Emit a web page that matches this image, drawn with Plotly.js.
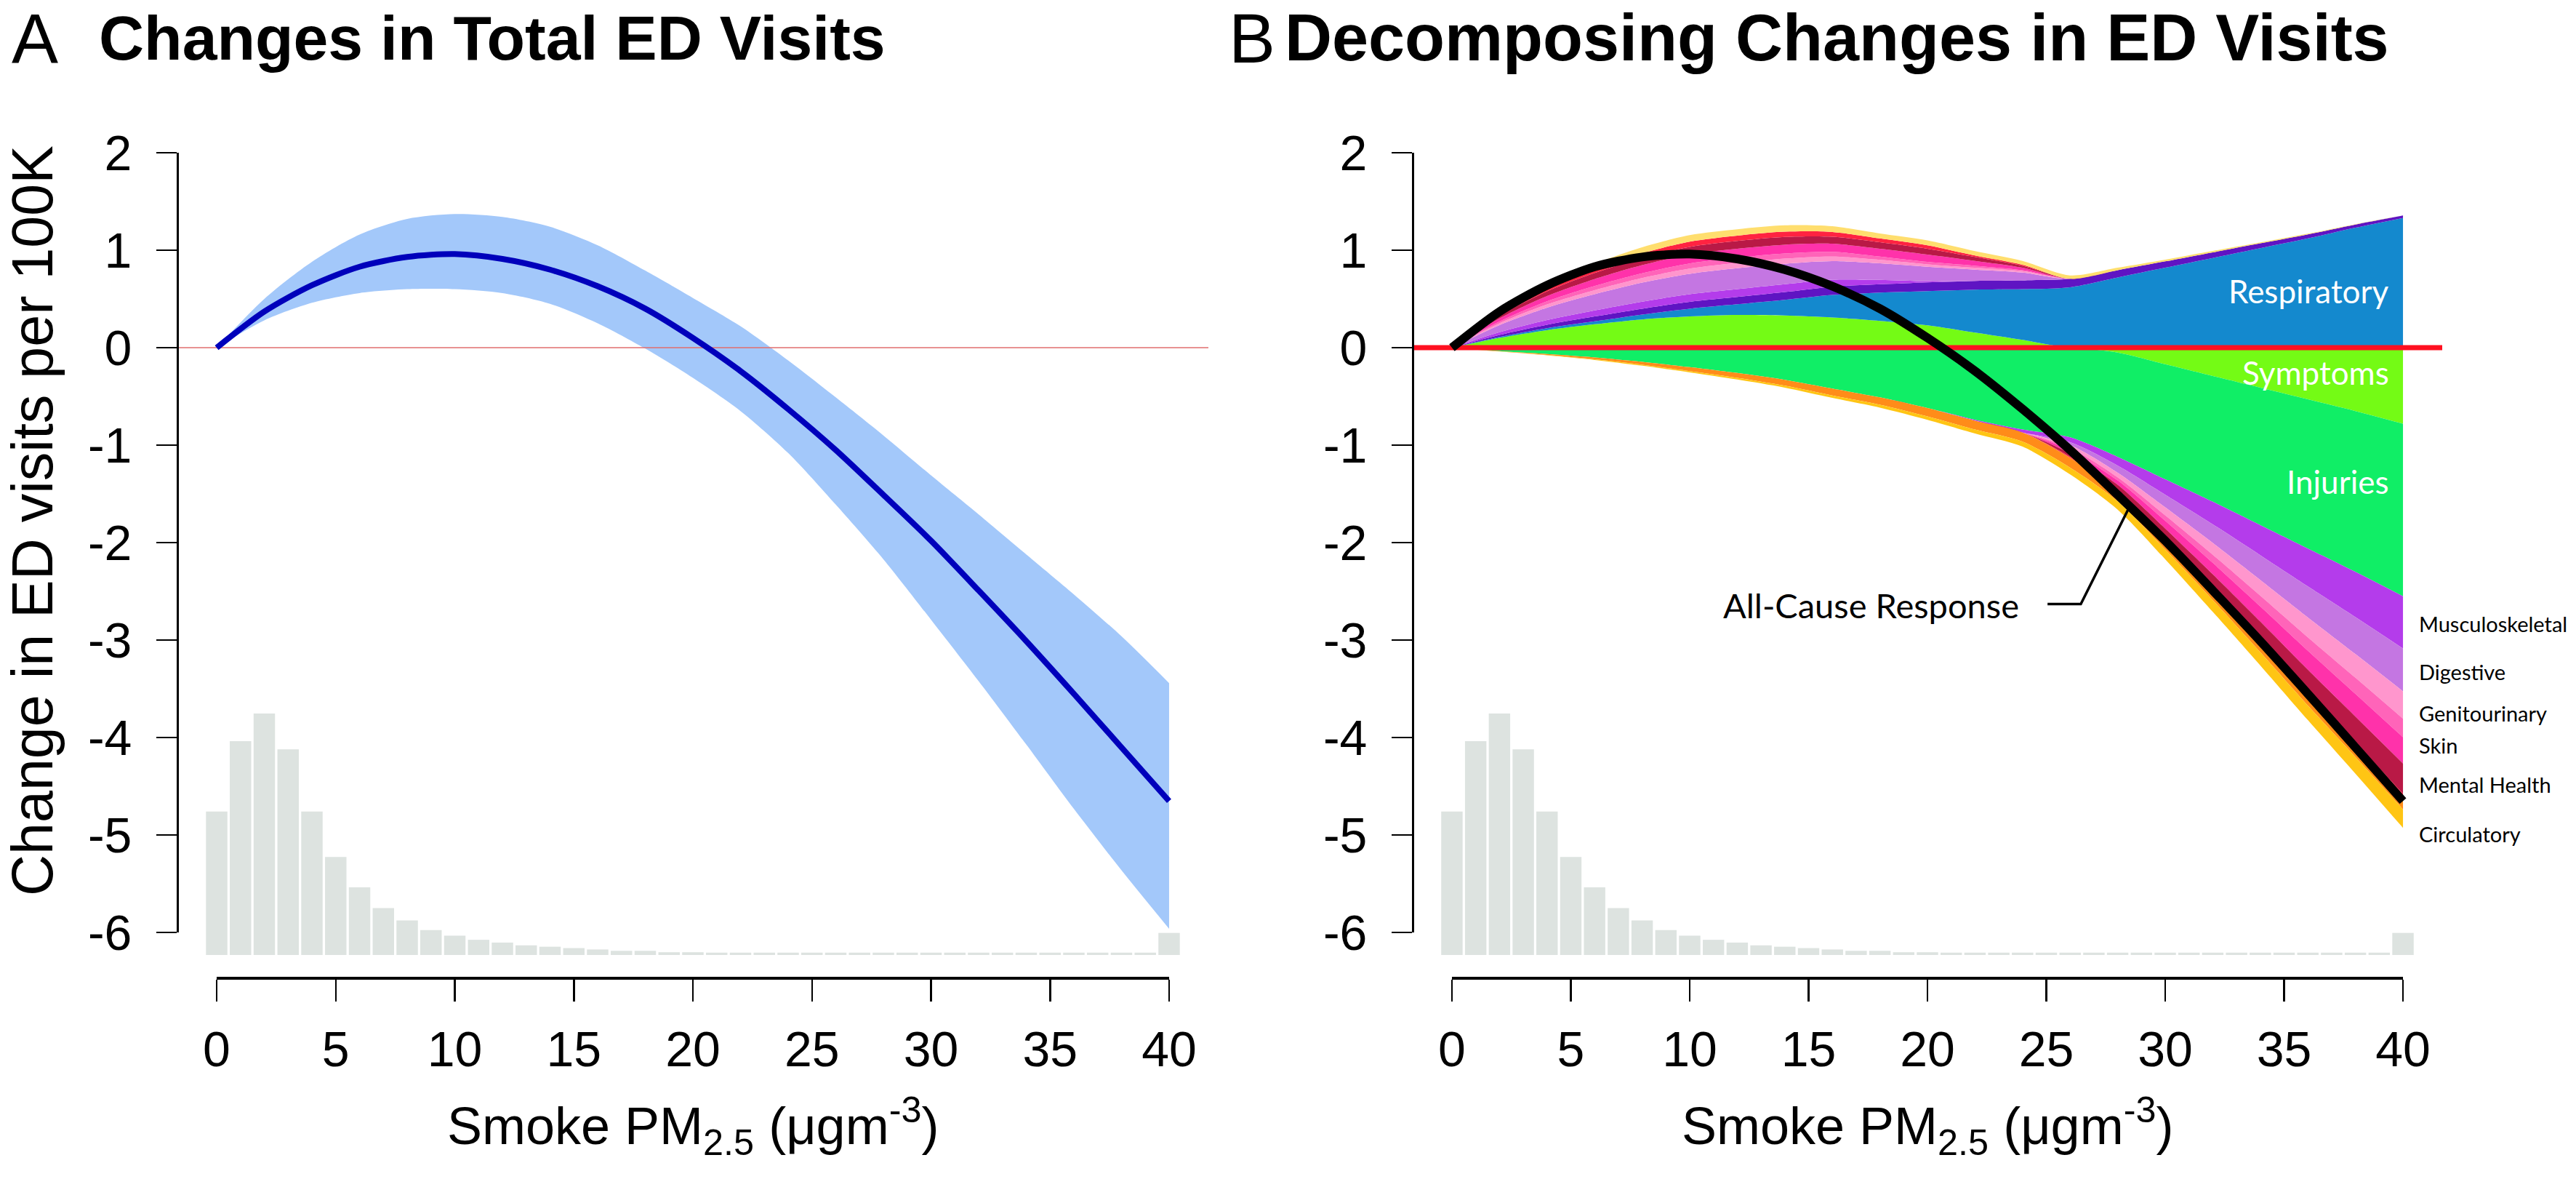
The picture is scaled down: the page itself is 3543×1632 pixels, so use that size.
<!DOCTYPE html>
<html><head><meta charset="utf-8">
<script src="https://cdn.plot.ly/plotly-3.0.1.min.js"></script>
<style>html,body{margin:0;padding:0;background:#fff}#chart{width:3543px;height:1632px}</style>
</head><body><div id="chart"></div>
<script>
// ---------------- DATA ----------------
const smoke = [0,2,4,6,8,10,12,14,16,18,20,22,24,26,28,30,32,34,36,38,40];

// Panel A: all-cause response and 95% CI (ED visits per 100K)
const allCause = [0,0.37,0.64,0.83,0.93,0.96,0.91,0.80,0.63,0.40,0.10,-0.24,-0.63,-1.05,-1.51,-1.98,-2.49,-3.01,-3.55,-4.10,-4.65];
const ciUpper  = [0,0.50,0.88,1.16,1.32,1.37,1.34,1.24,1.05,0.79,0.51,0.22,-0.13,-0.51,-0.90,-1.31,-1.71,-2.12,-2.53,-2.96,-3.44];
const ciLower  = [0,0.28,0.46,0.56,0.60,0.60,0.56,0.45,0.25,-0.01,-0.31,-0.65,-1.08,-1.61,-2.17,-2.79,-3.42,-4.07,-4.73,-5.36,-5.96];

// Smoke PM2.5 distribution (share of observations, %), 1-unit bins centred on integers
const histBins = [0,1,2,3,4,5,6,7,8,9,10,11,12,13,14,15,16,17,18,19,20,21,22,23,24,25,26,27,28,29,30,31,32,33,34,35,36,37,38,39,40];
const histPct  = [10.4,15.5,17.5,14.9,10.4,7.1,4.9,3.4,2.5,1.8,1.4,1.1,0.9,0.7,0.6,0.5,0.4,0.3,0.3,0.2,0.2,
                  0.17,0.17,0.17,0.17,0.17,0.17,0.17,0.17,0.17,0.17,0.17,0.17,0.17,0.17,0.17,0.17,0.17,0.17,0.17,1.6];

// Panel B: cause-specific contributions (signed), in stacking order
const symptoms      = [0,0.10,0.18,0.24,0.29,0.32,0.335,0.33,0.31,0.275,0.23,0.155,0.08,0,-0.05,-0.17,-0.29,-0.41,-0.53,-0.65,-0.78];
const respiratory   = [0,0.01,0.02,0.03,0.05,0.08,0.11,0.16,0.23,0.29,0.35,0.44,0.52,0.62,0.72,0.82,0.92,1.02,1.12,1.23,1.33];
const injuries      = [0,-0.035,-0.065,-0.10,-0.145,-0.20,-0.26,-0.33,-0.42,-0.51,-0.62,-0.74,-0.84,-0.92,-1.07,-1.18,-1.29,-1.41,-1.53,-1.65,-1.77];
const otherPurple   = [0,0.02,0.035,0.05,0.06,0.07,0.075,0.08,0.085,0.085,0.09,0.09,0.09,0.086,0.075,0.065,0.058,0.05,0.042,0.033,0.025];
const musculoskeletal=[0,0.028,0.048,0.062,0.072,0.078,0.08,0.08,0.072,0.045,0.01,-0.01,-0.03,-0.05,-0.09,-0.158,-0.232,-0.309,-0.388,-0.463,-0.535];
const digestive     = [0,0.074,0.128,0.166,0.195,0.21,0.215,0.21,0.19,0.17,0.15,0.115,0.08,-0.03,-0.073,-0.13,-0.191,-0.254,-0.319,-0.38,-0.44];
const genitourinary = [0,0.018,0.032,0.042,0.048,0.053,0.054,0.053,0.048,0.035,0.025,0.02,0.015,-0.03,-0.047,-0.082,-0.121,-0.161,-0.203,-0.242,-0.28];
const otherPink     = [0,0.018,0.032,0.042,0.048,0.053,0.054,0.053,0.048,0.035,0.025,0.02,0.01,-0.025,-0.032,-0.056,-0.083,-0.11,-0.138,-0.165,-0.19];
const skin          = [0,0.032,0.055,0.072,0.084,0.091,0.092,0.09,0.083,0.08,0.075,0.05,0.025,-0.03,-0.045,-0.079,-0.117,-0.155,-0.195,-0.233,-0.27];
const mentalHealth  = [0,0.028,0.048,0.062,0.073,0.079,0.08,0.08,0.072,0.066,0.06,0.04,0.02,-0.035,-0.052,-0.092,-0.135,-0.179,-0.225,-0.268,-0.31];
const otherRed      = [0,0.018,0.032,0.042,0.048,0.053,0.054,0.053,0.048,0.04,0.035,0.015,0.01,-0.01,-0.012,-0.013,-0.015,-0.016,-0.017,-0.018,-0.02];
const otherYellow   = [0,0.024,0.04,0.052,0.062,0.068,0.066,0.066,0.059,0.05,0.05,0.045,0.04,0.035,0.025,0.018,0.014,0.01,0.007,0.004,0];
const otherOrange   = [0,-0.003,-0.01,-0.02,-0.03,-0.04,-0.05,-0.06,-0.07,-0.075,-0.085,-0.09,-0.095,-0.10,-0.105,-0.11,-0.115,-0.12,-0.125,-0.13,-0.14];
const circulatory   = [0,-0.002,-0.004,-0.006,-0.01,-0.013,-0.017,-0.02,-0.025,-0.03,-0.035,-0.04,-0.05,-0.07,-0.085,-0.10,-0.12,-0.135,-0.15,-0.17,-0.19];

const xTicks = [0,5,10,15,20,25,30,35,40];
const yTicks = [-6,-5,-4,-3,-2,-1,0,1,2];
const yTickText = ['-6','-5','-4','-3','-2','-1','0','1','2'];

// ---------------- LAYOUT HELPERS ----------------
const W = 3543, H = 1632;
const fx = p => p / W, fy = p => 1 - p / H;
const xRange = [-1.65, 41.65];
const yRange = [-6.46, 2.32];
const histRange = [-1.634, 60.41];
const axisFont = 'Liberation Sans, Arial, Helvetica, sans-serif';
const labelFont = 'Lato, Open Sans, sans-serif';

const stackSeries = [
  {name:'Symptoms', v:symptoms, c:'#74fb15'},
  {name:'Respiratory', v:respiratory, c:'#1489ce'},
  {name:'Injuries', v:injuries, c:'#10ee66'},
  {name:'Other (dark purple)', v:otherPurple, c:'#5f14c3'},
  {name:'Musculoskeletal', v:musculoskeletal, c:'#b43ceb'},
  {name:'Digestive', v:digestive, c:'#c476e2'},
  {name:'Genitourinary', v:genitourinary, c:'#ff96cd'},
  {name:'Other (pink)', v:otherPink, c:'#ff64b9'},
  {name:'Skin', v:skin, c:'#ff32aa'},
  {name:'Mental Health', v:mentalHealth, c:'#b91946'},
  {name:'Other (red)', v:otherRed, c:'#ff2341'},
  {name:'Other (light yellow)', v:otherYellow, c:'#ffde6e'},
  {name:'Other (orange)', v:otherOrange, c:'#ff8c19'},
  {name:'Circulatory', v:circulatory, c:'#ffc514'}
];

const traces = [];
// Panel A
traces.push({type:'bar', x:histBins, y:histPct, xaxis:'x', yaxis:'y5', marker:{color:'#dde3e0'}, hoverinfo:'skip', showlegend:false});
traces.push({type:'scatter', mode:'lines', x:smoke, y:ciLower, xaxis:'x', yaxis:'y', line:{width:0, shape:'spline', smoothing:0.8}, hoverinfo:'skip', showlegend:false});
traces.push({type:'scatter', mode:'lines', x:smoke, y:ciUpper, xaxis:'x', yaxis:'y', fill:'tonexty', fillcolor:'#a3c8fa', line:{width:0, shape:'spline', smoothing:0.8}, hoverinfo:'skip', showlegend:false});
traces.push({type:'scatter', mode:'lines', x:xRange, y:[0,0], xaxis:'x', yaxis:'y', line:{color:'rgb(225,110,110)', width:1.3}, hoverinfo:'skip', showlegend:false});
traces.push({type:'scatter', mode:'lines', x:smoke, y:allCause, xaxis:'x', yaxis:'y', line:{color:'#0000bb', width:8, shape:'spline', smoothing:0.8}, showlegend:false});

// Panel B
traces.push({type:'bar', x:histBins, y:histPct, xaxis:'x2', yaxis:'y6', marker:{color:'#dde3e0'}, hoverinfo:'skip', showlegend:false});
['pos','neg'].forEach(g => {
  stackSeries.forEach(s => {
    traces.push({type:'scatter', mode:'lines', name:s.name, x:smoke,
      y: s.v.map(v => g === 'pos' ? Math.max(v,0) : Math.min(v,0)),
      stackgroup:g, fillcolor:s.c, line:{width:0, shape:'spline', smoothing:0.8},
      xaxis:'x2', yaxis:'y2', showlegend:false});
  });
});
traces.push({type:'scatter', mode:'lines', x:xRange, y:[0,0], xaxis:'x2', yaxis:'y2', line:{color:'#ff1020', width:7}, hoverinfo:'skip', showlegend:false});
traces.push({type:'scatter', mode:'lines', x:smoke, y:allCause, xaxis:'x2', yaxis:'y2', line:{color:'#000000', width:12, shape:'spline', smoothing:0.8}, showlegend:false});
// leader line from label to curve
const leader = {x:[25.05,26.45,28.44], y:[-2.63,-2.63,-1.66]};
traces.push({type:'scatter', mode:'lines', x:leader.x, y:leader.y, xaxis:'x2', yaxis:'y2', line:{color:'#000', width:3.5}, hoverinfo:'skip', showlegend:false});

// frame subplots (axes only)
traces.push({type:'scatter', x:[], y:[], xaxis:'x3', yaxis:'y3', showlegend:false});
traces.push({type:'scatter', x:[], y:[], xaxis:'x4', yaxis:'y4', showlegend:false});

const hidden = {visible:false, fixedrange:true};
const frameX = (d0, d1) => ({domain:[fx(d0), fx(d1)], range:[0,40], anchor:'free', position:fy(1344),
  tickvals:xTicks, ticktext:xTicks.map(String), ticks:'outside', ticklen:30, tickwidth:2.5, tickcolor:'#000',
  showline:true, linewidth:3.5, linecolor:'#000', showgrid:false, zeroline:false,
  tickfont:{family:axisFont, size:68, color:'#000'}, ticklabelstandoff:8});
const frameY = (pos) => ({domain:[fy(1282), fy(210)], range:[-6,2], anchor:'free', position:fx(pos),
  tickvals:yTicks, ticktext:yTickText, ticks:'outside', ticklen:28, tickwidth:2.5, tickcolor:'#000',
  showline:true, linewidth:3, linecolor:'#000', showgrid:false, zeroline:false,
  tickfont:{family:axisFont, size:68, color:'#000'}, ticklabelstandoff:20});

const smallLbl = {family:labelFont, size:29, color:'#000'};
const whiteLbl = {family:labelFont, size:44, color:'#fff'};

const layout = {
  width:W, height:H, margin:{l:0,r:0,t:0,b:0}, paper_bgcolor:'#fff', plot_bgcolor:'rgba(0,0,0,0)',
  showlegend:false, bargap:0.1, font:{family:axisFont, color:'#000'},
  xaxis: Object.assign({domain:[fx(244), fx(1662)], range:xRange, anchor:'y'}, hidden),
  yaxis: Object.assign({domain:[fy(1344), fy(167)], range:yRange, anchor:'x'}, hidden),
  yaxis5: Object.assign({overlaying:'y', range:histRange, anchor:'x'}, hidden),
  xaxis2: Object.assign({domain:[fx(1943), fx(3359)], range:xRange, anchor:'y2'}, hidden),
  yaxis2: Object.assign({domain:[fy(1344), fy(167)], range:yRange, anchor:'x2'}, hidden),
  yaxis6: Object.assign({overlaying:'y2', range:histRange, anchor:'x2'}, hidden),
  xaxis3: frameX(298, 1608),
  yaxis3: frameY(244),
  xaxis4: frameX(1997, 3305),
  yaxis4: frameY(1943),
  annotations: [
    {text:'A', xref:'paper', yref:'paper', x:fx(14), y:fy(52), xanchor:'left', yanchor:'middle', showarrow:false, font:{family:axisFont, size:96, color:'#000'}},
    {text:'Changes in Total ED Visits', xref:'paper', yref:'paper', x:fx(134), y:fy(52), xanchor:'left', yanchor:'middle', showarrow:false, font:{family:axisFont, size:86, weight:700, color:'#000'}},
    {text:'B', xref:'paper', yref:'paper', x:fx(1688), y:fy(52), xanchor:'left', yanchor:'middle', showarrow:false, font:{family:axisFont, size:96, color:'#000'}},
    {text:'Decomposing Changes in ED Visits', xref:'paper', yref:'paper', x:fx(1765), y:fy(52), xanchor:'left', yanchor:'middle', showarrow:false, font:{family:axisFont, size:90, weight:700, color:'#000'}},
    {text:'Change in ED visits per 100K', xref:'paper', yref:'paper', x:fx(44), y:fy(716), xanchor:'center', yanchor:'middle', textangle:-90, showarrow:false, font:{family:axisFont, size:79, color:'#000'}},
    {text:'Smoke PM<sub>2.5</sub> (μgm<sup>-3</sup>)', xref:'paper', yref:'paper', x:fx(953), y:fy(1548), xanchor:'center', yanchor:'middle', showarrow:false, font:{family:axisFont, size:72, color:'#000'}},
    {text:'Smoke PM<sub>2.5</sub> (μgm<sup>-3</sup>)', xref:'paper', yref:'paper', x:fx(2651), y:fy(1548), xanchor:'center', yanchor:'middle', showarrow:false, font:{family:axisFont, size:72, color:'#000'}},
    {text:'Respiratory', xref:'x2', yref:'y2', x:39.48, y:0.58, xanchor:'right', yanchor:'middle', showarrow:false, font:whiteLbl},
    {text:'Symptoms', xref:'x2', yref:'y2', x:39.48, y:-0.25, xanchor:'right', yanchor:'middle', showarrow:false, font:whiteLbl},
    {text:'Injuries', xref:'x2', yref:'y2', x:39.48, y:-1.37, xanchor:'right', yanchor:'middle', showarrow:false, font:whiteLbl},
    {text:'All-Cause Response', xref:'x2', yref:'y2', x:23.9, y:-2.64, xanchor:'right', yanchor:'middle', showarrow:false, font:{family:labelFont, size:47, color:'#000'}},
    {text:'Musculoskeletal', xref:'x2', yref:'y2', x:40.62, y:-2.83, xanchor:'left', yanchor:'middle', showarrow:false, font:smallLbl},
    {text:'Digestive', xref:'x2', yref:'y2', x:40.62, y:-3.32, xanchor:'left', yanchor:'middle', showarrow:false, font:smallLbl},
    {text:'Genitourinary', xref:'x2', yref:'y2', x:40.62, y:-3.75, xanchor:'left', yanchor:'middle', showarrow:false, font:smallLbl},
    {text:'Skin', xref:'x2', yref:'y2', x:40.62, y:-4.08, xanchor:'left', yanchor:'middle', showarrow:false, font:smallLbl},
    {text:'Mental Health', xref:'x2', yref:'y2', x:40.62, y:-4.48, xanchor:'left', yanchor:'middle', showarrow:false, font:smallLbl},
    {text:'Circulatory', xref:'x2', yref:'y2', x:40.62, y:-4.99, xanchor:'left', yanchor:'middle', showarrow:false, font:smallLbl}
  ]
};

Plotly.newPlot('chart', traces, layout, {staticPlot:true, displayModeBar:false});
</script>
</body></html>
